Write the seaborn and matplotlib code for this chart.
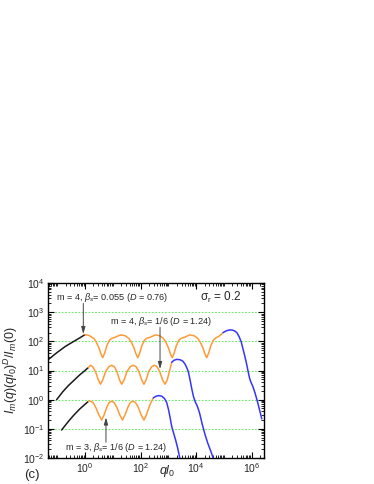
import numpy as np
import pandas as pd
import matplotlib
matplotlib.use("Agg")
import matplotlib.pyplot as plt
import seaborn as sns
from matplotlib.ticker import LogLocator, NullFormatter, FixedLocator, LogFormatterMathtext

# curve A : m = 4, beta_s = 0.055 (values as log10 of q l0 and of the intensity)
a_black_lq = [-1.35, -1.0, -0.7, -0.4, -0.15, 0.0]
a_black_li = [1.35, 1.62, 1.83, 2.00, 2.14, 2.23]
a_orange_lq = [0.00, 0.15, 0.32, 0.42, 0.50, 0.57, 0.64, 0.71, 0.79, 0.88, 0.97, 1.09, 1.22,
               1.30, 1.45, 1.58, 1.68, 1.76, 1.83, 1.90, 1.97, 2.05, 2.14, 2.23, 2.35, 2.48,
               2.54, 2.69, 2.82, 2.92, 3.00, 3.07, 3.14, 3.21, 3.29, 3.38, 3.47, 3.59, 3.72,
               3.78, 3.93, 4.06, 4.16, 4.24, 4.31, 4.38, 4.45, 4.53, 4.62, 4.71, 4.83, 4.97]
a_orange_li = [2.23, 2.20, 2.10, 1.95, 1.78, 1.58, 1.44, 1.60, 1.86, 2.04, 2.11, 2.14, 2.20,
               2.22, 2.19, 2.10, 1.95, 1.78, 1.58, 1.44, 1.60, 1.86, 2.04, 2.11, 2.14, 2.20,
               2.22, 2.19, 2.10, 1.95, 1.78, 1.58, 1.44, 1.60, 1.86, 2.04, 2.11, 2.14, 2.20,
               2.22, 2.19, 2.10, 1.95, 1.78, 1.58, 1.44, 1.60, 1.86, 2.04, 2.12, 2.18, 2.30]
a_blue_lq = [4.97, 5.08, 5.20, 5.28, 5.38, 5.47, 5.55, 5.62, 5.69, 5.76, 5.82, 5.87, 5.92,
             5.97, 6.04, 6.12, 6.20, 6.28, 6.36]
a_blue_li = [2.30, 2.36, 2.39, 2.39, 2.36, 2.29, 2.15, 1.98, 1.72, 1.45, 1.20, 0.96, 0.74,
             0.60, 0.45, 0.22, -0.05, -0.35, -0.66]

# curve B : m = 4, beta_s = 1/6
b_black_lq = [-1.02, -0.8, -0.6, -0.4, -0.2, 0.0, 0.12]
b_black_li = [0.0, 0.27, 0.48, 0.66, 0.84, 1.00, 1.10]
b_orange_lq = [0.12, 0.20, 0.28, 0.38, 0.48, 0.56, 0.64, 0.74, 0.86, 0.96, 1.06, 1.15, 1.24,
               1.32, 1.41, 1.51, 1.63, 1.74, 1.84, 1.94, 2.04, 2.12, 2.20, 2.29, 2.40, 2.50,
               2.59, 2.69, 2.79, 2.88, 2.96, 3.04, 3.12]
b_orange_li = [1.10, 1.18, 1.13, 0.96, 0.68, 0.53, 0.68, 0.96, 1.13, 1.18, 1.13, 0.96, 0.68,
               0.53, 0.68, 0.96, 1.13, 1.18, 1.13, 0.96, 0.68, 0.53, 0.68, 0.96, 1.13, 1.18,
               1.13, 0.96, 0.68, 0.53, 0.68, 0.98, 1.28]
b_blue_lq = [3.12, 3.20, 3.30, 3.42, 3.52, 3.60, 3.67, 3.72, 3.78, 3.84, 3.90, 3.96, 4.04,
             4.12, 4.22, 4.32, 4.42, 4.52, 4.62]
b_blue_li = [1.28, 1.35, 1.38, 1.37, 1.32, 1.22, 1.08, 0.95, 0.68, 0.38, 0.12, -0.06, -0.22,
             -0.45, -0.85, -1.20, -1.50, -1.75, -2.02]

# curve C : m = 3, beta_s = 1/6
c_black_lq = [-0.84, -0.6, -0.42, -0.2, 0.0, 0.12]
c_black_li = [-1.04, -0.75, -0.55, -0.33, -0.16, -0.06]
c_orange_lq = [0.12, 0.20, 0.29, 0.39, 0.50, 0.60, 0.69, 0.78, 0.87, 0.96, 1.05, 1.15, 1.25,
               1.35, 1.44, 1.54, 1.63, 1.72, 1.82, 1.92, 2.02, 2.12, 2.21, 2.30, 2.38, 2.46]
c_orange_li = [-0.06, -0.05, -0.10, -0.27, -0.52, -0.70, -0.52, -0.27, -0.10, -0.05, -0.10,
               -0.27, -0.52, -0.70, -0.52, -0.27, -0.10, -0.05, -0.10, -0.27, -0.52, -0.70,
               -0.52, -0.27, -0.08, 0.06]
c_blue_lq = [2.46, 2.56, 2.66, 2.76, 2.86, 2.94, 3.00, 3.06, 3.12, 3.18, 3.26, 3.34, 3.42]
c_blue_li = [0.06, 0.12, 0.14, 0.12, 0.04, -0.10, -0.32, -0.60, -0.92, -1.12, -1.38, -1.68, -2.05]

sns.set_theme(style="ticks")
plt.rcParams['font.family'] = ['Liberation Sans', 'DejaVu Sans']
plt.rcParams['mathtext.fontset'] = 'custom'
plt.rcParams['mathtext.rm'] = 'Liberation Sans'
plt.rcParams['mathtext.it'] = 'Liberation Sans:italic'
plt.rcParams['mathtext.bf'] = 'Liberation Sans:bold'

BLACK = "#1a1a1a"
ORANGE = "#ff9a36"
BLUE = "#3535ff"

fig = plt.figure(figsize=(3.74, 4.84), dpi=100)
ax = fig.add_axes([48 / 374, 26 / 484, 216 / 374, 175 / 484])

segments = [
    (a_black_lq, a_black_li, BLACK), (a_orange_lq, a_orange_li, ORANGE), (a_blue_lq, a_blue_li, BLUE),
    (b_black_lq, b_black_li, BLACK), (b_orange_lq, b_orange_li, ORANGE), (b_blue_lq, b_blue_li, BLUE),
    (c_black_lq, c_black_li, BLACK), (c_orange_lq, c_orange_li, ORANGE), (c_blue_lq, c_blue_li, BLUE),
]
for lq, li, col in segments:
    df = pd.DataFrame({"q": 10 ** np.array(lq), "I": 10 ** np.array(li)})
    sns.lineplot(data=df, x="q", y="I", sort=False, estimator=None, color=col, lw=1.1, ax=ax)

ax.set_xscale("log")
ax.set_yscale("log")
ax.set_xlim(10 ** -1.33, 10 ** 6.44)
ax.set_ylim(1e-2, 1e4)

# dotted green grid lines
for yv in [1e-1, 1e0, 1e1, 1e2, 1e3]:
    ax.axhline(yv, color="#66ee66", lw=0.8, ls=(0, (1.5, 1.5)), zorder=0)

ax.xaxis.set_major_locator(FixedLocator([1e0, 1e2, 1e4, 1e6]))
ax.xaxis.set_major_formatter(LogFormatterMathtext())
ax.xaxis.set_minor_locator(LogLocator(base=10, subs=np.arange(1, 10), numticks=30))
ax.xaxis.set_minor_formatter(NullFormatter())
ax.yaxis.set_major_locator(LogLocator(base=10, numticks=10))
ax.yaxis.set_major_formatter(LogFormatterMathtext())
ax.yaxis.set_minor_locator(LogLocator(base=10, subs=np.arange(2, 10), numticks=30))
ax.yaxis.set_minor_formatter(NullFormatter())
ax.tick_params(which="both", direction="in", top=True, right=True, color="black",
               labelsize=7.5, pad=2.5)
ax.tick_params(which="major", length=4, width=0.8)
ax.tick_params(which="minor", length=2, width=0.6)
for sp in ax.spines.values():
    sp.set_color("black")
    sp.set_linewidth(1.0)

ax.set_xlabel("")
ax.xaxis.label.set_visible(False)
ax.set_ylabel(r"$I_m(q)(ql_0)^D/I_m(0)$", fontsize=9, labelpad=2)
ax.text(10 ** 2.95, -0.075, r"$ql_0$", transform=ax.get_xaxis_transform(),
        ha="center", va="center", fontsize=9)

fs = 6.6
ax.text(10 ** -1.04, 10 ** 3.49, r"m = 4, $\mathit{\beta_s}$= 0.055 ($D$ = 0.76)",
        fontsize=fs, ha="left", va="center")
ax.text(10 ** 4.14, 10 ** 3.49, r"$\mathrm{\sigma_r}$ = 0.2", fontsize=8.5, ha="left", va="center")
ax.text(10 ** 0.90, 10 ** 2.67, r"m = 4, $\mathit{\beta_s}$= 1/6 ($D$ = 1.24)",
        fontsize=fs, ha="left", va="center")
ax.text(10 ** -0.72, 10 ** -1.63, r"m = 3, $\mathit{\beta_s}$= 1/6 ($D$ = 1.24)",
        fontsize=fs, ha="left", va="center")

arrow = dict(arrowstyle="-|>,head_length=0.35,head_width=0.1", color="#444444", lw=0.7,
             shrinkA=0, shrinkB=0)
ax.annotate("", xy=(10 ** -0.06, 10 ** 2.25), xytext=(10 ** -0.06, 10 ** 3.30), arrowprops=arrow)
ax.annotate("", xy=(10 ** 2.70, 10 ** 1.05), xytext=(10 ** 2.70, 10 ** 2.48), arrowprops=arrow)
ax.annotate("", xy=(10 ** 0.755, 10 ** -0.61), xytext=(10 ** 0.755, 10 ** -1.46), arrowprops=arrow)

fig.text(31.5 / 374, 9 / 484, "(c)", fontsize=9.5, ha="center", va="center")

fig.savefig("out.png", dpi=100)
